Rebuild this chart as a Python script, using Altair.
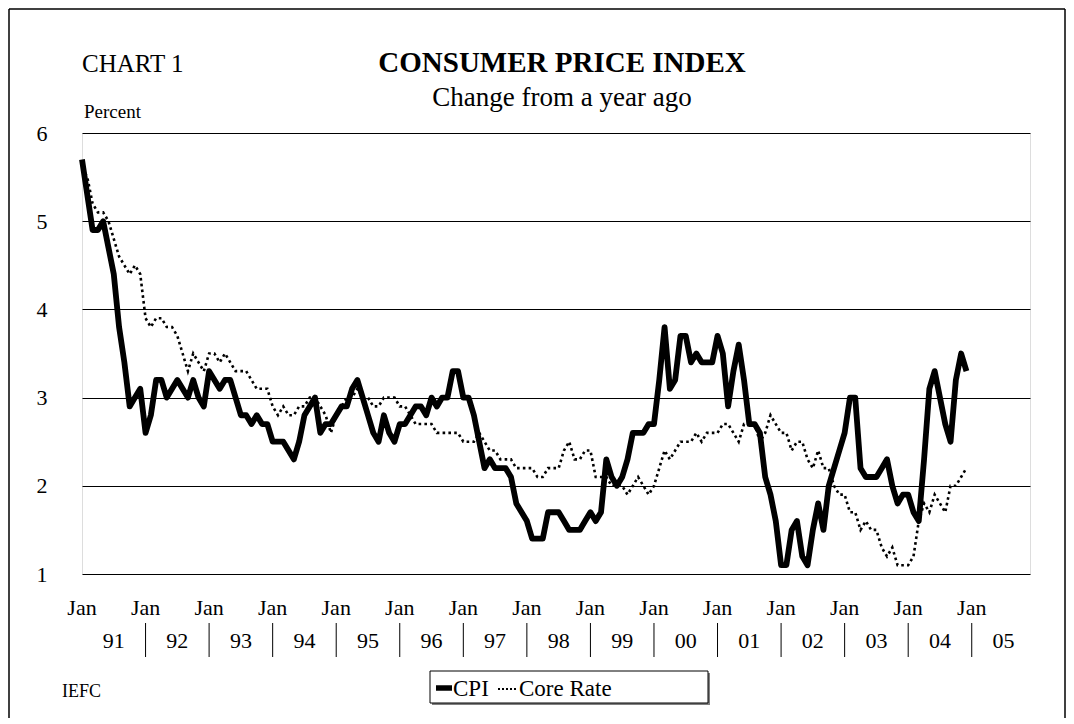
import altair as alt
import pandas as pd

# ---------------- data ----------------
years = ["91", "92", "93", "94", "95", "96", "97", "98", "99", "00", "01", "02", "03", "04", "05"]
jan_label = "Jan"
y_ticks = [1, 2, 3, 4, 5, 6]

cpi = [
    5.7, 5.3, 4.9, 4.9, 5.0, 4.7, 4.4, 3.8, 3.4, 2.9, 3.0, 3.1,   # 1991
    2.6, 2.8, 3.2, 3.2, 3.0, 3.1, 3.2, 3.1, 3.0, 3.2, 3.0, 2.9,   # 1992
    3.3, 3.2, 3.1, 3.2, 3.2, 3.0, 2.8, 2.8, 2.7, 2.8, 2.7, 2.7,   # 1993
    2.5, 2.5, 2.5, 2.4, 2.3, 2.5, 2.8, 2.9, 3.0, 2.6, 2.7, 2.7,   # 1994
    2.8, 2.9, 2.9, 3.1, 3.2, 3.0, 2.8, 2.6, 2.5, 2.8, 2.6, 2.5,   # 1995
    2.7, 2.7, 2.8, 2.9, 2.9, 2.8, 3.0, 2.9, 3.0, 3.0, 3.3, 3.3,   # 1996
    3.0, 3.0, 2.8, 2.5, 2.2, 2.3, 2.2, 2.2, 2.2, 2.1, 1.8, 1.7,   # 1997
    1.6, 1.4, 1.4, 1.4, 1.7, 1.7, 1.7, 1.6, 1.5, 1.5, 1.5, 1.6,   # 1998
    1.7, 1.6, 1.7, 2.3, 2.1, 2.0, 2.1, 2.3, 2.6, 2.6, 2.6, 2.7,   # 1999
    2.7, 3.2, 3.8, 3.1, 3.2, 3.7, 3.7, 3.4, 3.5, 3.4, 3.4, 3.4,   # 2000
    3.7, 3.5, 2.9, 3.3, 3.6, 3.2, 2.7, 2.7, 2.6, 2.1, 1.9, 1.6,   # 2001
    1.1, 1.1, 1.5, 1.6, 1.2, 1.1, 1.5, 1.8, 1.5, 2.0, 2.2, 2.4,   # 2002
    2.6, 3.0, 3.0, 2.2, 2.1, 2.1, 2.1, 2.2, 2.3, 2.0, 1.8, 1.9,   # 2003
    1.9, 1.7, 1.6, 2.3, 3.1, 3.3, 3.0, 2.7, 2.5, 3.2, 3.5, 3.3,   # 2004
]

core = [
    5.6, 5.5, 5.2, 5.1, 5.1, 5.0, 4.8, 4.6, 4.5, 4.4, 4.5, 4.4,   # 1991
    3.9, 3.8, 3.9, 3.9, 3.8, 3.8, 3.7, 3.5, 3.3, 3.5, 3.4, 3.3,   # 1992
    3.5, 3.5, 3.4, 3.5, 3.4, 3.3, 3.3, 3.3, 3.2, 3.1, 3.1, 3.1,   # 1993
    2.9, 2.8, 2.9, 2.8, 2.8, 2.9, 2.9, 3.0, 3.0, 2.9, 2.8, 2.6,   # 1994
    2.8, 2.9, 3.0, 3.0, 3.1, 3.0, 3.0, 2.9, 2.9, 3.0, 3.0, 3.0,   # 1995
    2.9, 2.9, 2.8, 2.7, 2.7, 2.7, 2.7, 2.6, 2.6, 2.6, 2.6, 2.6,   # 1996
    2.5, 2.5, 2.5, 2.6, 2.5, 2.4, 2.4, 2.3, 2.3, 2.3, 2.2, 2.2,   # 1997
    2.2, 2.2, 2.1, 2.1, 2.2, 2.2, 2.2, 2.4, 2.5, 2.3, 2.3, 2.4,   # 1998
    2.4, 2.1, 2.1, 2.1, 2.0, 2.0, 2.0, 1.9, 2.0, 2.1, 2.0, 1.9,   # 1999
    2.0, 2.2, 2.4, 2.3, 2.4, 2.5, 2.5, 2.5, 2.6, 2.5, 2.6, 2.6,   # 2000
    2.6, 2.7, 2.7, 2.6, 2.5, 2.7, 2.7, 2.7, 2.5, 2.6, 2.8, 2.7,   # 2001
    2.6, 2.6, 2.4, 2.5, 2.5, 2.3, 2.2, 2.4, 2.2, 2.2, 2.0, 1.9,   # 2002
    1.9, 1.7, 1.7, 1.5, 1.6, 1.5, 1.5, 1.3, 1.2, 1.3, 1.1, 1.1,   # 2003
    1.1, 1.2, 1.6, 1.8, 1.7, 1.9, 1.8, 1.7, 2.0, 2.0, 2.1, 2.2,   # 2004
]

chart_label = "CHART 1"
title_text = "CONSUMER PRICE INDEX"
subtitle_text = "Change from a year ago"
unit_text = "Percent"
source_text = "IEFC"
series_names = ["CPI", "Core Rate"]

# ---------------- layout ----------------
FONT = "Liberation Serif"
W, H = 948, 441
n = len(cpi)
months = list(range(n))

df = pd.DataFrame({
    "m": months + months,
    "v": cpi + core,
    "s": [series_names[0]] * n + [series_names[1]] * n,
})

xs = alt.Scale(domain=[0, 179], nice=False, zero=False)
ys = alt.Scale(domain=[1, 6], nice=False, zero=False)
yaxis = alt.Axis(values=y_ticks, title=None, ticks=False, domain=False, grid=True,
                 gridColor="black", gridWidth=1, labelFont=FONT, labelFontSize=22,
                 labelColor="black", labelPadding=35, labelAlign="right")

cpi_line = alt.Chart(df[df.s == "CPI"]).mark_line(
    color="black", strokeWidth=5.8, strokeJoin="round"
).encode(
    x=alt.X("m:Q", scale=xs, axis=None),
    y=alt.Y("v:Q", scale=ys, axis=yaxis),
)

core_line = alt.Chart(df[df.s == "Core Rate"]).mark_line(
    color="black", strokeWidth=2.6, strokeDash=[2.6, 3.2]
).encode(
    x=alt.X("m:Q", scale=xs, axis=None),
    y=alt.Y("v:Q", scale=ys, axis=yaxis),
)

# x axis: "Jan" labels at each January, year labels mid-year, separators at Januaries
jan_df = pd.DataFrame({"m": [12 * i for i in range(len(years))], "t": [jan_label] * len(years)})
year_df = pd.DataFrame({"m": [12 * i + 6 for i in range(len(years))], "t": years})
sep_df = pd.DataFrame({"m": [12 * i for i in range(1, len(years))]})

jan_text = alt.Chart(jan_df).mark_text(
    font=FONT, fontSize=22, color="black", baseline="alphabetic", align="center"
).encode(x=alt.X("m:Q", scale=xs, axis=None), y=alt.value(H + 41), text="t:N")

year_text = alt.Chart(year_df).mark_text(
    font=FONT, fontSize=22, color="black", baseline="alphabetic", align="center"
).encode(x=alt.X("m:Q", scale=xs, axis=None), y=alt.value(H + 74), text="t:N")

sep_rules = alt.Chart(sep_df).mark_rule(color="black", strokeWidth=1).encode(
    x=alt.X("m:Q", scale=xs, axis=None), y=alt.value(H + 49), y2=alt.value(H + 83)
)


def label(text, x, y, size, align="left", weight="normal"):
    return alt.Chart(pd.DataFrame({"t": [text]})).mark_text(
        font=FONT, fontSize=size, fontWeight=weight, color="black",
        align=align, baseline="alphabetic"
    ).encode(x=alt.value(x), y=alt.value(y), text="t:N")


titles = [
    label(chart_label, 0, -61, 25),
    label(title_text, 480, -61, 29, align="center", weight="bold"),
    label(subtitle_text, 480, -27, 27, align="center"),
    label(unit_text, 2, -15, 19),
    label(source_text, -20, 564, 18),
]

# legend box
LX0, LX1, LY0, LY1 = 348, 626, 538, 570
legend_shadow = alt.Chart(pd.DataFrame({"a": [0]})).mark_rect(fill="#7f7f7f").encode(
    x=alt.value(LX0 + 2), x2=alt.value(LX1 + 2), y=alt.value(LY0 + 2), y2=alt.value(LY1 + 2)
)
legend_box = alt.Chart(pd.DataFrame({"a": [0]})).mark_rect(
    fill="white", stroke="black", strokeWidth=1
).encode(x=alt.value(LX0), x2=alt.value(LX1), y=alt.value(LY0), y2=alt.value(LY1))
leg_cpi = alt.Chart(pd.DataFrame({"a": [0]})).mark_rule(color="black", strokeWidth=5.5).encode(
    x=alt.value(LX0 + 6), x2=alt.value(LX0 + 22), y=alt.value(555)
)
leg_core = alt.Chart(pd.DataFrame({"a": [0]})).mark_rule(
    color="black", strokeWidth=2.2, strokeDash=[2, 2]
).encode(x=alt.value(LX0 + 68), x2=alt.value(LX0 + 88), y=alt.value(556))
leg_texts = [
    label(series_names[0], LX0 + 23, 563, 23),
    label(series_names[1], LX0 + 89, 563, 23),
]

# outer frame
frame = [
    alt.Chart(pd.DataFrame({"a": [0]})).mark_rule(color="black", strokeWidth=1.5).encode(
        x=alt.value(-73), y=alt.value(-124), y2=alt.value(H + 160)),
    alt.Chart(pd.DataFrame({"a": [0]})).mark_rule(color="black", strokeWidth=1.5).encode(
        x=alt.value(-73), x2=alt.value(983), y=alt.value(-124)),
    alt.Chart(pd.DataFrame({"a": [0]})).mark_rule(color="black", strokeWidth=1.5).encode(
        x=alt.value(983), y=alt.value(-124), y2=alt.value(H + 160)),
]

chart = alt.layer(
    cpi_line, core_line, jan_text, year_text, sep_rules, *titles,
    legend_shadow, legend_box, leg_cpi, leg_core, *leg_texts, *frame
).properties(
    width=W, height=H,
    autosize=alt.AutoSizeParams(type="none"),
    padding={"left": 74, "top": 125, "right": 36, "bottom": 144},
).configure_view(stroke="#404040", strokeWidth=1.5).configure(background="white")

chart.save("out.html", embed_options={"renderer": "svg", "actions": False})
